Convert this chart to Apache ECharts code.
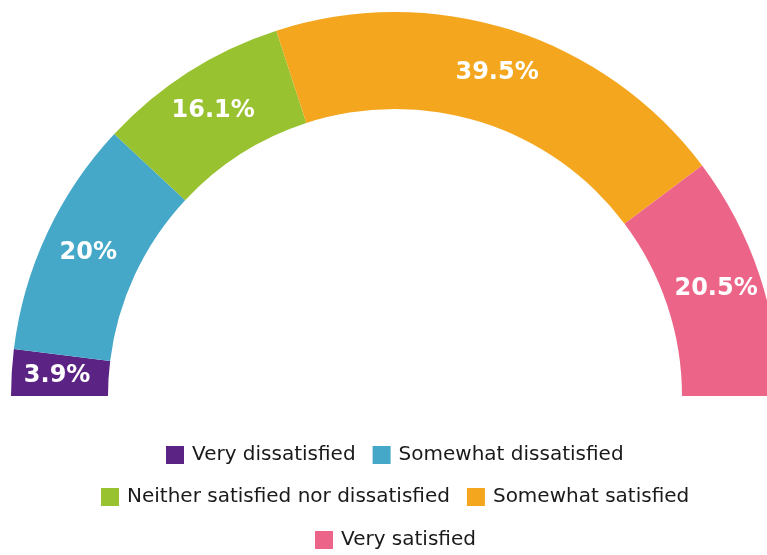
<!DOCTYPE html>
<html>
<head>
<meta charset="utf-8">
<script src="https://cdn.jsdelivr.net/npm/echarts@6/dist/echarts.min.js"></script>
<style>
  html, body { margin: 0; padding: 0; background: #fff; }
  #chartDiv { width: 767px; height: 555px; }
</style>
</head>
<body>
<div id="chartDiv"></div>
<script>
// 数据
let categories = ['Very dissatisfied', 'Somewhat dissatisfied', 'Neither satisfied nor dissatisfied', 'Somewhat satisfied', 'Very satisfied'];
let values = [3.9, 20, 16.1, 39.5, 20.5];
let colors = ['#5b2383', '#46a8c8', '#98c22f', '#f4a71e', '#ec6588'];
let legendRows = [[0, 1], [2, 3], [4]];

let myChart = echarts.init(document.getElementById('chartDiv'));
window.onresize = myChart.resize;

let fontName = 'DejaVu Sans';
let legendFontSize = 20;
let legendCenterX = 395;

let seriesData = [];
for (let i = 0; i < categories.length; i++) {
	seriesData.push({name: categories[i], value: values[i], itemStyle: {color: colors[i]}});
}

// 测量文字宽度，使图例每行以饼图中心居中
let ctx = document.createElement('canvas').getContext('2d');
ctx.font = legendFontSize + 'px "' + fontName + '"';
function rowWidth(row) {
	let w = 0;
	row.forEach(function (i, k) {
		w += 18 + 5 + 3 + ctx.measureText(categories[i]).width;
		if (k > 0) w += 17;
	});
	return w;
}

let legendTops = [445, 487, 530];
let legends = legendRows.map(function (row, k) {
	return {
		data: row.map(function (i) { return categories[i]; }),
		left: Math.round(legendCenterX - rowWidth(row) / 2),
		top: legendTops[k],
		padding: 0,
		itemWidth: 18,
		itemHeight: 18,
		itemGap: 17,
		icon: 'rect',
		selectedMode: false,
		textStyle: {
			fontFamily: fontName,
			fontSize: legendFontSize,
			color: '#1a1a1a',
			padding: [0, 0, 0, 3]
		}
	};
});

let option = {
	backgroundColor: '#fff',
	animation: false,
	legend: legends,
	series: [{
		type: 'pie',
		center: [395, 396],
		radius: [287, 384],
		startAngle: 180,
		endAngle: 0,
		clockwise: true,
		avoidLabelOverlap: false,
		itemStyle: {borderWidth: 0},
		label: {
			show: true,
			position: 'inside',
			color: '#fff',
			fontFamily: fontName,
			fontWeight: 'bold',
			fontSize: 24,
			formatter(params) {
				return params.value + '%';
			}
		},
		labelLine: {show: false},
		emphasis: {disabled: true},
		data: seriesData
	}]
};
myChart.setOption(option);
</script>
</body>
</html>
